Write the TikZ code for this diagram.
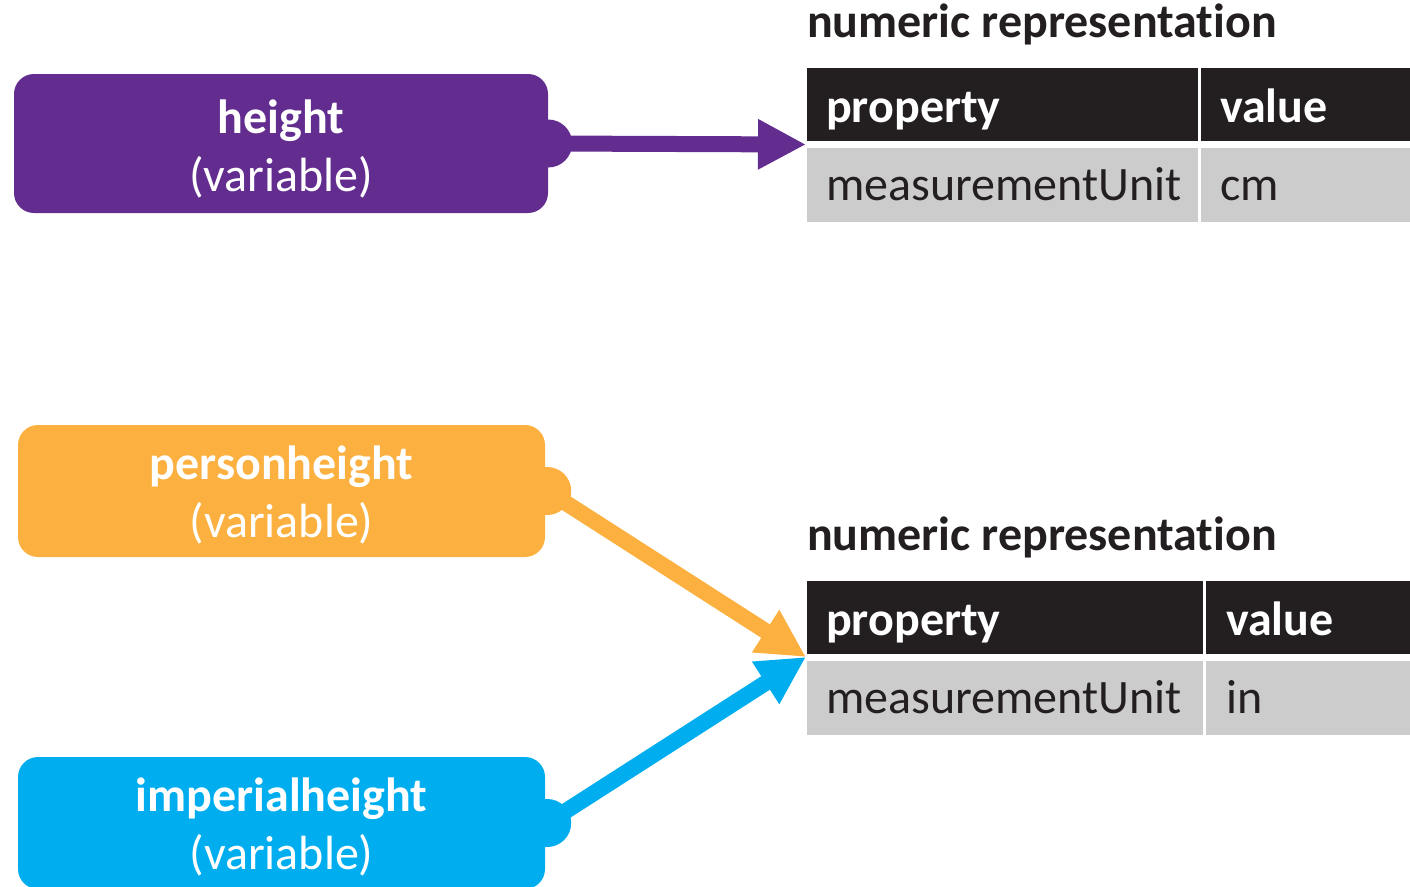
\documentclass[tikz,border=0pt]{standalone}
\usepackage{fontspec}
\setmainfont{Carlito}[Ligatures={NoCommon,TeX}]
\usetikzlibrary{arrows.meta}
\definecolor{vpurple}{HTML}{632D8F}
\definecolor{vorange}{HTML}{FBB040}
\definecolor{vblue}{HTML}{00AEEF}
\definecolor{hdark}{HTML}{231F20}
\definecolor{rgray}{HTML}{CCCCCC}
\begin{document}
\begin{tikzpicture}[x=1pt,y=-1pt,
  varbox/.style={rectangle, rounded corners=20pt, inner sep=0pt, text=white,
    align=center, font=\fontsize{48}{58}\selectfont},
  bump/.style={circle, inner sep=0pt, minimum size=48pt},
  conn/.style={line width=16pt, -{Triangle[length=48pt,width=47pt]}},
  hcell/.style={rectangle, fill=hdark, inner sep=0pt, anchor=north west, minimum height=73pt},
  rcell/.style={rectangle, fill=rgray, inner sep=0pt, anchor=north west, minimum height=74pt},
  htext/.style={anchor=base west, text=white, inner sep=0pt, font=\fontsize{48}{57}\selectfont\bfseries},
  rtext/.style={anchor=base west, text=hdark, inner sep=0pt, font=\fontsize{48}{57}\selectfont},
  ttl/.style={anchor=base west, text=hdark, inner sep=0pt, font=\fontsize{48}{57}\selectfont\bfseries},
  vtext/.style={text=white, inner sep=0pt, align=center, font=\fontsize{48}{58}\selectfont}
  ]
\useasboundingbox (0,0) rectangle (1410,886);

% variable boxes
\node[varbox, fill=vpurple, minimum width=534pt, minimum height=139pt] (pbox) at (281,143.5) {};
\node[vtext] (ptext) at ([yshift=-5pt]pbox.center) {\textbf{height}\\(variable)};
\node[varbox, fill=vorange, minimum width=527pt, minimum height=132pt] (obox) at (281.5,491) {};
\node[vtext] (otext) at ([yshift=-4pt]obox.center) {\textbf{personheight}\\(variable)};
\node[varbox, fill=vblue, minimum width=527pt, minimum height=132pt] (bbox) at (281.5,823) {};
\node[vtext] (btext) at ([yshift=-4pt]bbox.center) {\textbf{imperialheight}\\(variable)};

\node[bump, fill=vpurple] (pb) at (pbox.east) {};
\node[bump, fill=vorange] (ob) at ([xshift=2pt]obox.east) {};
\node[bump, fill=vblue] (bb) at ([xshift=2pt]bbox.east) {};

% table 1
\node[ttl] (t1) at (807,37) {numeric representation};
\node[hcell, minimum width=391pt] (h1a) at (807,68) {};
\node[hcell, minimum width=209pt] (h1b) at (1201,68) {};
\node[rcell, minimum width=391pt] (r1a) at (807,148) {};
\node[rcell, minimum width=209pt] (r1b) at (1201,148) {};
\node[htext] (h1at) at ([xshift=19pt,yshift=19pt]h1a.south west) {property};
\node[htext] (h1bt) at ([xshift=19pt,yshift=19pt]h1b.south west) {value};
\node[rtext] (r1at) at ([xshift=19pt,yshift=22pt]r1a.south west) {measurementUnit};
\node[rtext] (r1bt) at ([xshift=19pt,yshift=22pt]r1b.south west) {cm};
\coordinate (e1) at (806,144.5);

% table 2
\node[ttl] (t2) at (807,550) {numeric representation};
\node[hcell, minimum width=396pt] (h2a) at (807,581) {};
\node[hcell, minimum width=204pt] (h2b) at (1206,581) {};
\node[rcell, minimum width=396pt] (r2a) at (807,661) {};
\node[rcell, minimum width=204pt] (r2b) at (1206,661) {};
\node[htext] (h2at) at ([xshift=19pt,yshift=19pt]h2a.south west) {property};
\node[htext] (h2bt) at ([xshift=20pt,yshift=19pt]h2b.south west) {value};
\node[rtext] (r2at) at ([xshift=19pt,yshift=22pt]r2a.south west) {measurementUnit};
\node[rtext] (r2bt) at ([xshift=20pt,yshift=22pt]r2b.south west) {in};
\coordinate (e2) at (806,657);

% connectors
\draw[conn, draw=vpurple, fill=vpurple] (pb.center) -- (e1);
\draw[conn, draw=vorange, fill=vorange] (ob.center) -- (e2);
\draw[conn, draw=vblue, fill=vblue] (bb.center) -- (e2);
\end{tikzpicture}
\end{document}
